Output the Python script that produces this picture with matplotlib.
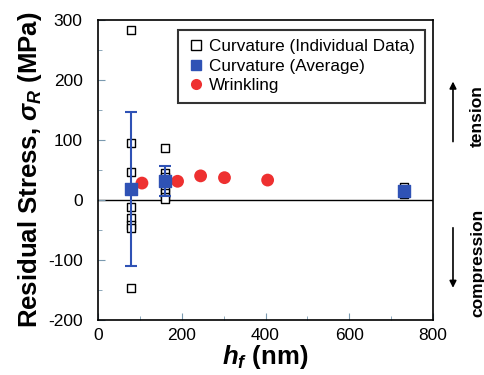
import numpy as np
import matplotlib.pyplot as plt
from matplotlib.ticker import MultipleLocator
from matplotlib.lines import Line2D

plt.rcParams['font.family'] = ['Liberation Sans', 'DejaVu Sans']
plt.rcParams['axes.unicode_minus'] = False
plt.rcParams['mathtext.fontset'] = 'custom'
plt.rcParams['mathtext.bf'] = 'Liberation Sans:bold'
plt.rcParams['mathtext.bfit'] = 'Liberation Sans:bold:italic'
plt.rcParams['mathtext.it'] = 'Liberation Sans:bold:italic'

# curvature, individual measurements
ind_x = [80, 80, 80, 80, 80, 80, 80, 80,
         160, 160, 160, 160, 160, 160, 160, 160,
         730, 730, 730]
ind_y = [283, 94, 46, -12, -30, -42, -47, -147,
         87, 45, 38, 30, 20, 12, 5, 2,
         21, 15, 10]

# curvature, averages with error bars
avg_x = [80, 160, 730]
avg_y = [18, 31, 15]
avg_err = [128, 25, 6]

# wrinkling
wr_x = [105, 190, 245, 302, 405]
wr_y = [28, 31, 40, 37, 33]

labels = ['Curvature (Individual Data)', 'Curvature (Average)', 'Wrinkling']

blue = '#2f52b5'
red = '#ee3030'

fig = plt.figure(figsize=(4.85, 3.75), dpi=100)
ax = fig.add_axes([0.202, 0.147, 0.691, 0.8])

ax.axhline(0, color='black', lw=1.0, zorder=1)
ax.scatter(ind_x, ind_y, marker='s', s=32, facecolors='white',
           edgecolors='black', linewidths=1.0, zorder=3)
ax.errorbar(avg_x, avg_y, yerr=avg_err, fmt='none', ecolor=blue,
            elinewidth=1.5, capsize=4, capthick=1.5, zorder=4)
ax.scatter(avg_x, avg_y, marker='s', s=85, color=blue, zorder=5)
ax.scatter(wr_x, wr_y, marker='o', s=85, color=red, edgecolors='none',
           zorder=4)

ax.set_xlim(0, 800)
ax.set_ylim(-200, 300)
ax.xaxis.set_major_locator(MultipleLocator(200))
ax.xaxis.set_minor_locator(MultipleLocator(100))
ax.yaxis.set_major_locator(MultipleLocator(100))
ax.yaxis.set_minor_locator(MultipleLocator(50))
ax.tick_params(which='both', direction='in', labelsize=12.5, color='#7a9ab0')
ax.tick_params(which='major', length=5)
ax.tick_params(axis='y', which='major', pad=11)
ax.tick_params(axis='x', which='major', pad=6)
ax.tick_params(which='minor', length=3)
for s in ax.spines.values():
    s.set_linewidth(1.2)

ax.set_xlabel(r'$\mathbfit{h}_\mathbfit{f}$ (nm)', fontsize=18.5,
              fontweight='bold', labelpad=0)
ax.set_ylabel(r'Residual Stress, $\mathbfit{\sigma}_\mathbfit{R}$ (MPa)',
              fontsize=18.5, fontweight='bold', labelpad=3)

handles = [
    Line2D([], [], ls='none', marker='s', ms=7, mfc='white', mec='black', mew=1.0),
    Line2D([], [], ls='none', marker='s', ms=7.5, color=blue),
    Line2D([], [], ls='none', marker='o', ms=8, color=red, mec='none'),
]
leg = ax.legend(handles, labels, loc='upper right', fontsize=12.3,
                frameon=True, fancybox=False, edgecolor='black',
                handletextpad=0.3, borderpad=0.55, labelspacing=0.28,
                handlelength=1.0, borderaxespad=0.3,
                bbox_to_anchor=(0.99, 0.985))
leg.get_frame().set_linewidth(1.5)

# tension / compression annotations on the right
ax.annotate('', xy=(0.934, 0.79), xytext=(0.934, 0.615),
            xycoords='figure fraction',
            arrowprops=dict(arrowstyle='-|>', color='black', lw=1.2))
ax.annotate('', xy=(0.934, 0.225), xytext=(0.934, 0.40),
            xycoords='figure fraction',
            arrowprops=dict(arrowstyle='-|>', color='black', lw=1.2))
fig.text(0.985, 0.69, 'tension', rotation=90, ha='center', va='center',
         fontsize=12.5, fontweight='bold')
fig.text(0.985, 0.30, 'compression', rotation=90, ha='center', va='center',
         fontsize=12.5, fontweight='bold')

fig.savefig('out.png', dpi=100)
